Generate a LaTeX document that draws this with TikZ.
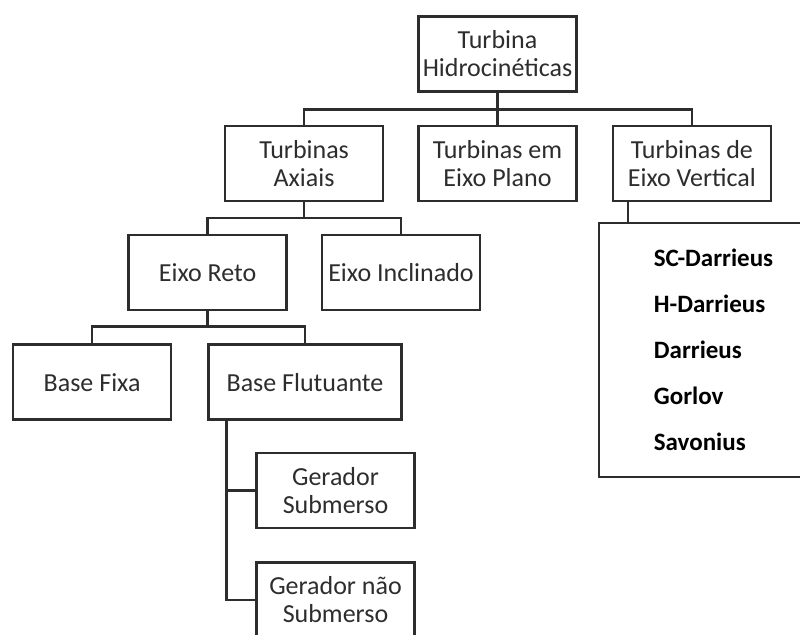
\documentclass[tikz,border=0pt]{standalone}
\usepackage{fontspec}
\setmainfont{Carlito}
\usepackage{tikz}
\usetikzlibrary{positioning}
\definecolor{linegray}{RGB}{45,45,45}
\tikzset{node distance=16pt, auto,
  box/.style={draw=linegray, line width=1.2pt, text=linegray, align=center,
    minimum width=79pt, minimum height=37.5pt, inner sep=0.5pt,
    font=\fontsize{13}{14}\selectfont},
  link/.style={draw=linegray, line width=1.2pt}}

\begin{document}
\begin{tikzpicture}
\useasboundingbox (0,0) rectangle (400pt,-317.5pt);
\clip (0,0) rectangle (400pt,-317.5pt);
\node (top) [box] at (248.75pt,-27pt) {Turbina\\Hidrocinéticas};
\node (plano) [box, below=of top] {Turbinas em\\Eixo Plano};
\node (axiais) [box, left=16.5pt of plano] {Turbinas\\Axiais};
\node (vertical) [box, right=17pt of plano] {Turbinas de\\Eixo Vertical};
\node (reto) [box, below=of axiais, xshift=-48.25pt] {Eixo Reto};
\node (inclinado) [box, right=16.5pt of reto] {Eixo Inclinado};
\node (fixa) [box, below=of reto, xshift=-57.75pt] {Base Fixa};
\node (flutuante) [box, right=17.5pt of fixa, minimum width=96.5pt] {Base Flutuante};
\node (gsub) [box, below=15.5pt of flutuante, xshift=15.25pt] {Gerador\\Submerso};
\node (gnao) [box, below=of gsub] {Gerador não\\Submerso};
\node (tipos) [box, below=10pt of vertical.south west, anchor=north west, xshift=-7pt,
  text width=70pt, inner xsep=27.5pt, minimum height=127pt, align=left,
  text=black, font=\bfseries\fontsize{12.5}{23}\selectfont]
  {SC-Darrieus\\H-Darrieus\\Darrieus\\Gorlov\\Savonius};
\draw[link] (top) -- (plano);
\draw[link] (top.south) -- ++(0,-8.5pt) -| (axiais.north);
\draw[link] (top.south) -- ++(0,-8.5pt) -| (vertical.north);
\draw[link] (axiais.south) -- ++(0,-8pt) -| (reto.north);
\draw[link] (axiais.south) -- ++(0,-8pt) -| (inclinado.north);
\draw[link] (reto.south) -- ++(0,-7.5pt) -| (fixa.north);
\draw[link] (reto.south) -- ++(0,-7.5pt) -| (flutuante.north);
\draw[link] ([xshift=9.5pt]flutuante.south west) |- (gsub.west);
\draw[link] ([xshift=9.5pt]flutuante.south west) |- (gnao.west);
\draw[link] ([xshift=8pt]vertical.south west) -- ([xshift=8pt]vertical.south west |- tipos.north);
\end{tikzpicture}
\end{document}
